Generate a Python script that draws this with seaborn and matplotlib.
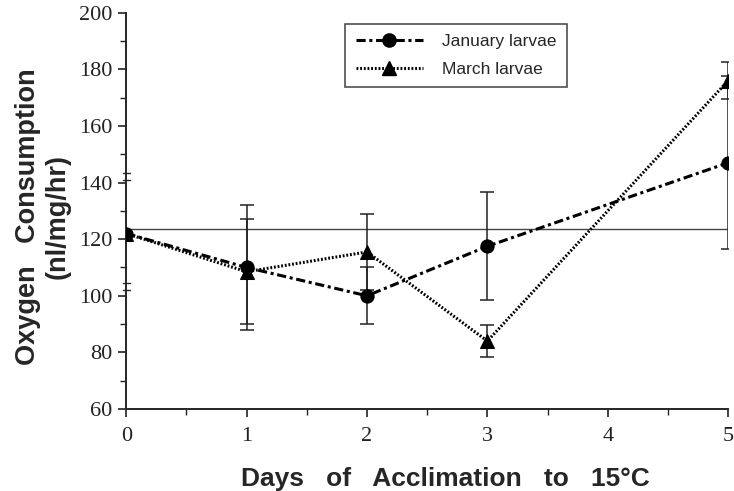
import numpy as np
import pandas as pd
import matplotlib
matplotlib.use("Agg")
import matplotlib.pyplot as plt
from matplotlib.ticker import MultipleLocator
from matplotlib.lines import Line2D
import seaborn as sns

# ── data ─────────────────────────────────────────────────────────────────────
days        = [0, 1, 2, 3, 5]
jan_mean    = [122, 110, 100, 117.5, 147]
jan_err     = [0, 22, 10, 19, 30.5]
mar_mean    = [122, 108.5, 115.5, 84, 176]
mar_err     = [0, 18.5, 13.5, 5.7, 6.5]
ref_level   = 123.5
series_names = ["January larvae", "March larvae"]

df = pd.concat([
    pd.DataFrame({"day": days, "o2": jan_mean, "err": jan_err, "group": series_names[0]}),
    pd.DataFrame({"day": days, "o2": mar_mean, "err": mar_err, "group": series_names[1]}),
], ignore_index=True)

sns.set_style("ticks")
plt.rcParams["font.family"] = ["Liberation Serif", "DejaVu Serif"]

fig = plt.figure(figsize=(7.34, 4.91), dpi=100)
ax = fig.add_axes([0.172, 0.167, 0.820, 0.807])

# baseline reference line
ax.plot([0, 5], [ref_level, ref_level], color="#444", lw=1.0, zorder=1)

# error bars
for name in series_names:
    sub = df[df["group"] == name]
    ax.errorbar(sub["day"], sub["o2"], yerr=sub["err"], fmt="none",
                ecolor="#222", elinewidth=1.1, capsize=5, capthick=1.1, zorder=2)

jan_dash = (3, 1.2, 1, 1.2)
mar_dash = (0.6, 0.6)
sns.lineplot(data=df, x="day", y="o2", hue="group", style="group",
             palette={series_names[0]: "black", series_names[1]: "black"},
             markers={series_names[0]: "o", series_names[1]: "^"},
             dashes={series_names[0]: jan_dash, series_names[1]: mar_dash},
             markersize=9.5, markeredgecolor="black", lw=2.2, ax=ax, legend=False, zorder=3)

ax.set_xlim(0, 5)
ax.set_ylim(60, 200)
ax.xaxis.set_major_locator(MultipleLocator(1))
ax.xaxis.set_minor_locator(MultipleLocator(0.5))
ax.yaxis.set_major_locator(MultipleLocator(20))
ax.yaxis.set_minor_locator(MultipleLocator(10))
ax.tick_params(which="major", length=6, width=1.2, labelsize=16, direction="out", colors="#222")
ax.tick_params(which="minor", length=4, width=1.0, direction="out", colors="#222")
ax.tick_params(axis="x", pad=7)
ax.tick_params(axis="y", pad=4)
ax.spines["top"].set_visible(False)
ax.spines["right"].set_visible(False)
ax.spines["left"].set_linewidth(1.4)
ax.spines["bottom"].set_linewidth(1.4)

# axis break marks
for yb in [102, 104.5, 141, 143.5]:
    ax.plot([-0.03, 0.03], [yb, yb], color="#222", lw=1.0, clip_on=False)

ax.set_xlabel("Days   of   Acclimation   to   15°C", fontsize=19, fontweight="bold",
              family="Liberation Sans", labelpad=15)
ax.xaxis.label.set_x(0.53)
ax.set_ylabel("Oxygen   Consumption\n(nl/mg/hr)", fontsize=19.5, fontweight="bold",
              family="Liberation Sans", labelpad=6, linespacing=1.2)
ax.yaxis.label.set_y(0.485)

handles = [
    Line2D([], [], color="black", marker="o", markersize=9.5, lw=2.2, dashes=jan_dash),
    Line2D([], [], color="black", marker="^", markersize=9.5, lw=2.2, dashes=mar_dash),
]
leg = ax.legend(handles, series_names, loc="upper left", bbox_to_anchor=(0.355, 0.985),
                frameon=True, fancybox=False, edgecolor="#222", handlelength=3.9,
                prop={"family": "Liberation Sans", "size": 12.5}, borderpad=0.6,
                labelspacing=0.7, handletextpad=1.1, borderaxespad=0.3)
leg.get_frame().set_linewidth(1.2)

fig.savefig("out.png", dpi=100)
